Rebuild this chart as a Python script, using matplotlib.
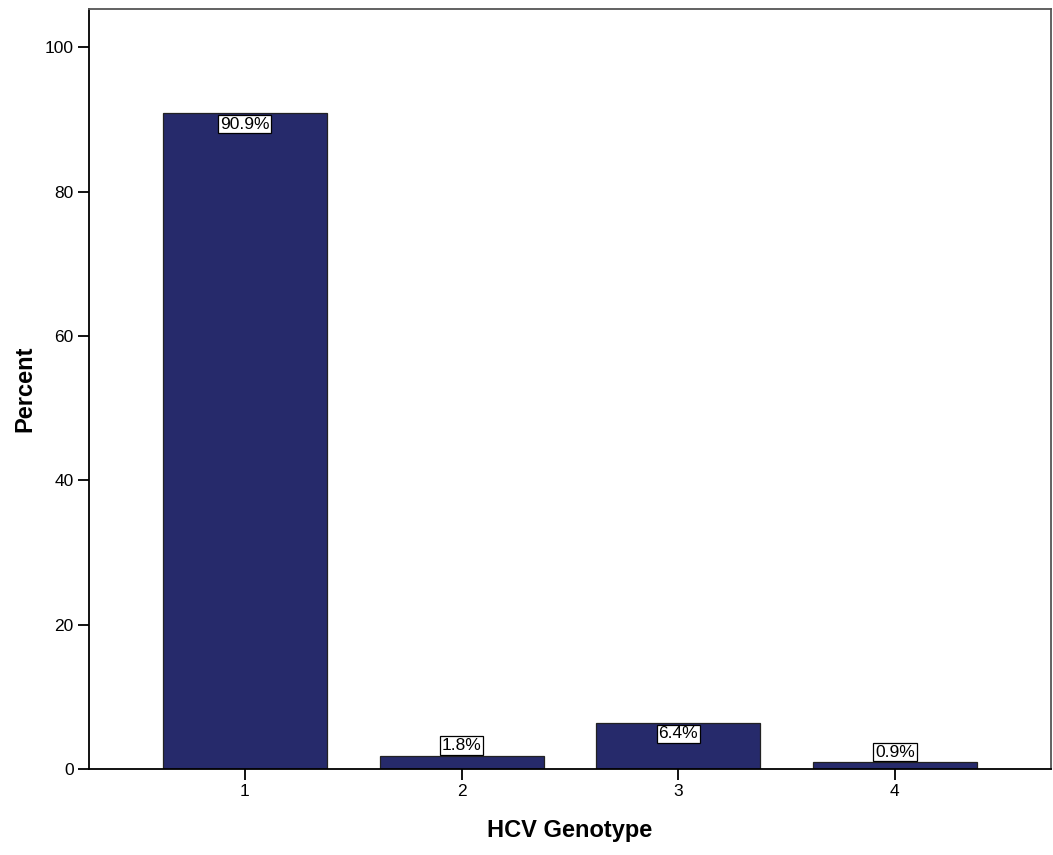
import matplotlib
matplotlib.use("Agg")
from matplotlib import pyplot as plt

genotypes = ["1", "2", "3", "4"]
percent = [90.9, 1.8, 6.4, 0.9]
labels = ["90.9%", "1.8%", "6.4%", "0.9%"]

plt.rcParams['font.family'] = ['Liberation Sans', 'DejaVu Sans']

fig = plt.figure(figsize=(10.53, 8.55), dpi=100)
ax = fig.add_axes([0.0845, 0.1006, 0.9135, 0.8889])

x = list(range(1, len(genotypes) + 1))
ax.bar(x, percent, width=0.757, color="#262A6B", edgecolor="#222222", linewidth=0.9)

# labels sit inside the bar top when it is tall enough, otherwise just above
for xi, v, lab in zip(x, percent, labels):
    off = -1.55 if v > 3 else 1.45
    ax.text(xi, v + off, lab, ha="center", va="center", fontsize=12.5,
            bbox=dict(boxstyle="square,pad=0.1", fc="white", ec="black", lw=0.9))

ax.set_xlim(0.28, 4.72)
ax.set_ylim(0, 105.3)
ax.set_xticks(x)
ax.set_xticklabels(genotypes)
ax.set_yticks([0, 20, 40, 60, 80, 100])
ax.tick_params(axis="both", labelsize=12.5, length=8, width=1.3, direction="out", pad=3)
ax.tick_params(top=False, right=False)
for s in ax.spines.values():
    s.set_linewidth(1.3)
ax.spines["top"].set_color("#555555")
ax.spines["right"].set_color("#555555")

ax.set_xlabel("HCV Genotype", fontsize=17, fontweight="bold", labelpad=14)
ax.set_ylabel("Percent", fontsize=17, fontweight="bold", labelpad=6)

fig.savefig("out.png", dpi=100)
